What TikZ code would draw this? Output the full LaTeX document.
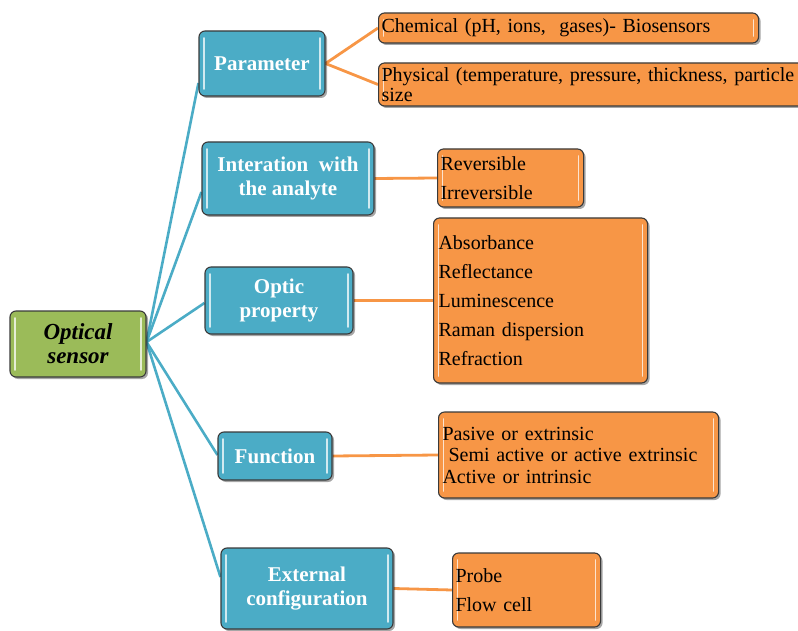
\documentclass[tikz,border=0pt]{standalone}
\usepackage{fontspec}
\setmainfont{Liberation Serif}
\newfontfamily\tnr{Liberation Serif}
\usetikzlibrary{shadows,backgrounds,calc}
\definecolor{cblue}{HTML}{4BACC6}
\definecolor{cgreen}{HTML}{9BBB59}
\definecolor{corange}{HTML}{F79646}
\definecolor{cborder}{HTML}{3A3A3A}
\definecolor{bline}{HTML}{4BACC6}
\definecolor{oline}{HTML}{F79646}
\tikzset{
  gloss/.style={path picture={
    \draw[white, opacity=0.75, line width=1.6pt, line cap=round]
      ([xshift=5pt,yshift=-7pt]path picture bounding box.north west) -- ([xshift=5pt,yshift=7pt]path picture bounding box.south west)
      ([xshift=-5pt,yshift=-7pt]path picture bounding box.north east) -- ([xshift=-5pt,yshift=7pt]path picture bounding box.south east);
  }},
  basebox/.style={draw=cborder, line width=1.1pt, rounded corners=6pt, gloss,
    drop shadow={shadow xshift=2pt, shadow yshift=-2pt, opacity=0.35, fill=black}},
  bbox/.style={basebox, fill=cblue, text=white, align=center, inner sep=0pt,
    font=\tnr\bfseries\fontsize{21}{24}\selectfont},
  rbox/.style={basebox, fill=cgreen, text=black, align=center, inner sep=0pt,
    font=\tnr\bfseries\itshape\fontsize{23}{24}\selectfont},
  obox/.style={basebox, fill=corange, text=black, align=left, anchor=west,
    inner xsep=3pt, inner ysep=0pt, font=\tnr\fontsize{20}{29}\selectfont},
  bconn/.style={draw=bline, line width=2.6pt},
  oconn/.style={draw=oline, line width=2.8pt},
}
\begin{document}
\begin{tikzpicture}[x=1pt,y=-1pt]
\useasboundingbox (0,0) rectangle (798,631);
% root
\node[rbox, minimum width=136pt, minimum height=66pt] (root) at (78,344) {Optical\\sensor};
% categories
\node[bbox, minimum width=126pt, minimum height=65pt] (par) at (262,63.5) {Parameter};
\node[bbox, minimum width=172pt, minimum height=73pt] (int) at (288,178.5) {Interation\ \ with\\the analyte};
\node[bbox, minimum width=148pt, minimum height=67pt] (opt) at (279,300.5) {Optic\\property};
\node[bbox, minimum width=114pt, minimum height=48pt] (fun) at (275,456) {Function};
\node[bbox, minimum width=172pt, minimum height=81pt] (ext) at (307,588.5) {External\\configuration};
% leaves
\node[obox, text width=374pt, minimum height=30pt] (chem) at (378,28) {Chemical (pH, ions,\ \ gases)- Biosensors};
\node[obox, text width=422pt, minimum height=43pt, font=\tnr\fontsize{20}{20}\selectfont] (phys) at (378,84.5) {Physical (temperature, pressure, thickness, particle\\size};
\node[obox, text width=140pt, minimum height=58pt] (rev) at (437,178) {Reversible\\Irreversible};
\node[obox, minimum height=165pt, inner xsep=5pt, text width=204pt] (optl) at (433,300.5) {Absorbance\\Reflectance\\Luminescence\\Raman dispersion\\Refraction};
\node[obox, text width=272pt, minimum height=86pt, inner xsep=4pt, font=\tnr\fontsize{20}{21.5}\selectfont] (funl) at (438,455) {Pasive or extrinsic\\\hspace{0.3em}Semi active or active extrinsic\\Active or intrinsic};
\node[obox, text width=142pt, minimum height=74pt] (extl) at (452,590) {Probe\\Flow cell};
% hub point on the root
\coordinate (hub) at ($(root.east)+(0,-2)$);
% connectors
\begin{scope}[on background layer]
\draw[bconn] (hub) -- ($(par.west)+(0,19.5)$);
\draw[bconn] (hub) -- ($(int.west)+(0,13.5)$);
\draw[bconn] (hub) -- ($(opt.west)+(0,2.5)$);
\draw[bconn] (hub) -- ($(fun.west)+(0,-1)$);
\draw[bconn] (hub) -- ($(ext.west)+(0,-11.5)$);
\draw[oconn] (par.east) -- (chem.west);
\draw[oconn] (par.east) -- (phys.west);
\draw[oconn] (int.east) -- (rev.west);
\draw[oconn] (opt.east) -- (optl.west);
\draw[oconn] (fun.east) -- (funl.west);
\draw[oconn] (ext.east) -- (extl.west);
\end{scope}
\end{tikzpicture}
\end{document}
